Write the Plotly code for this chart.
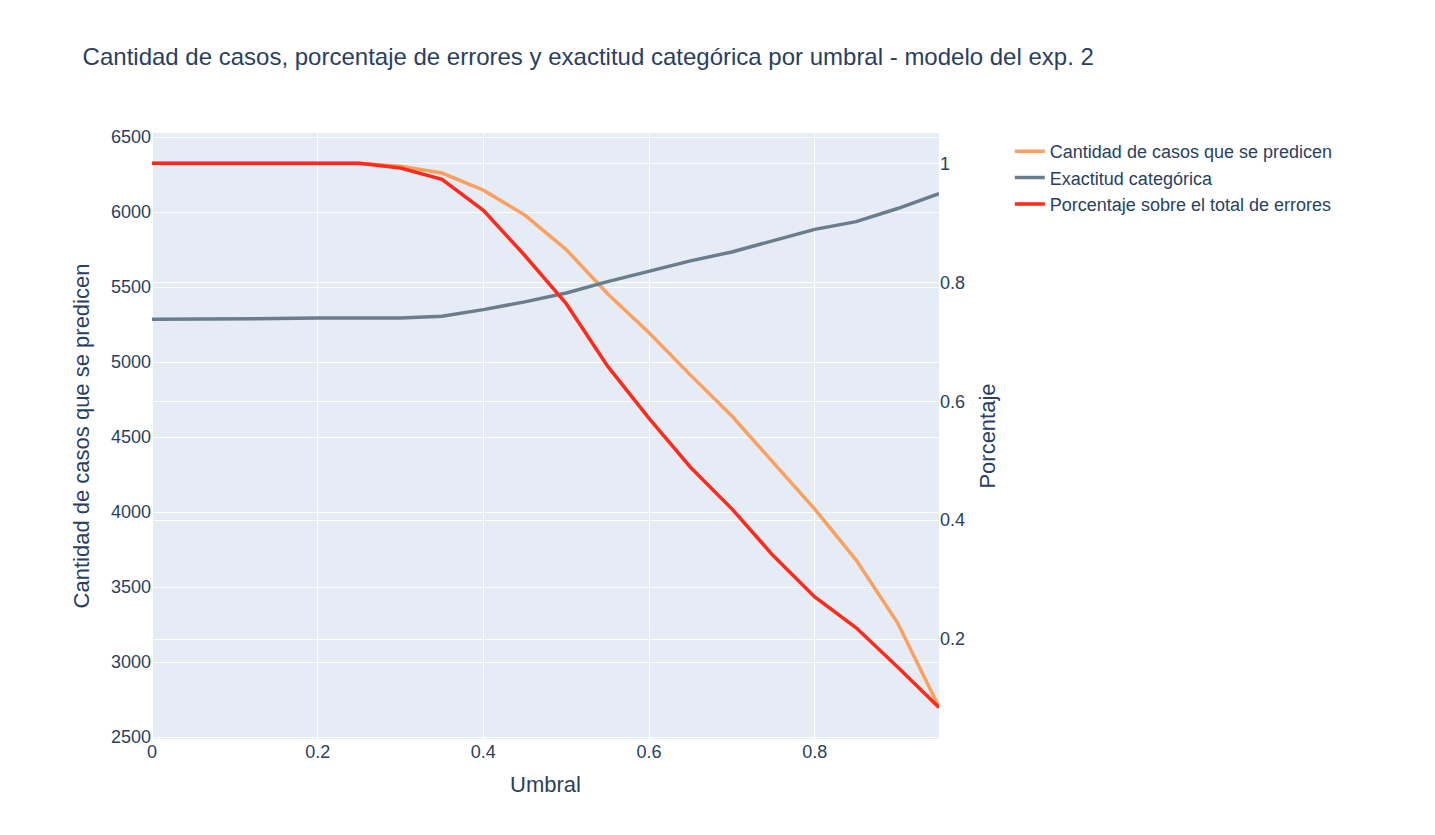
import plotly.graph_objects as go

umbral = [round(i*0.05, 2) for i in range(20)]
casos = [6326,6326,6326,6326,6326,6326,6306,6260,6146,5980,5750,5456,5195,4913,4640,4333,4020,3680,3262,2700]
exactitud = [0.738,0.738,0.739,0.739,0.740,0.740,0.740,0.743,0.754,0.767,0.782,0.801,0.819,0.836,0.851,0.870,0.889,0.902,0.924,0.949]
errores = [1,1,1,1,1,1,0.992,0.973,0.921,0.845,0.764,0.659,0.571,0.489,0.419,0.340,0.271,0.219,0.153,0.085]

fig = go.Figure()
fig.add_trace(go.Scatter(x=umbral, y=casos, mode="lines", name="Cantidad de casos que se predicen",
                         line=dict(color="#FCA060", width=3.5)))
fig.add_trace(go.Scatter(x=umbral, y=exactitud, mode="lines", name="Exactitud categórica",
                         line=dict(color="#6A7D8C", width=3.5), yaxis="y2"))
fig.add_trace(go.Scatter(x=umbral, y=errores, mode="lines", name="Porcentaje sobre el total de errores",
                         line=dict(color="#FF2A1A", width=3.5), yaxis="y2"))
fig.update_layout(
    template="plotly",
    width=1435, height=835,
    margin=dict(l=144, r=504, t=125, b=104),
    title=dict(text="Cantidad de casos, porcentaje de errores y exactitud categórica por umbral - modelo del exp. 2",
               x=0.052, y=0.952, font=dict(size=24)),
    font=dict(family="Arial, Liberation Sans", size=18, color="#2a3f5f"),
    xaxis=dict(title=dict(text="Umbral"), range=[0, 0.95], dtick=0.2),
    yaxis=dict(title=dict(text="Cantidad de casos que se predicen"), range=[2487, 6527]),
    yaxis2=dict(title=dict(text="Porcentaje"), overlaying="y", side="right", range=[0.032, 1.051]),
    legend=dict(x=1.09, y=1, font=dict(size=18)),
)
fig.write_html("out.html")
